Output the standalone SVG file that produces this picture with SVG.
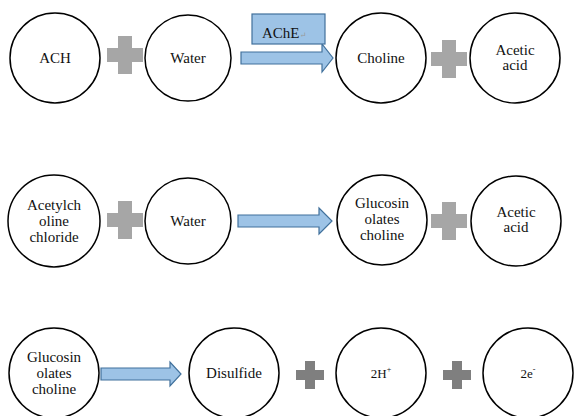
<svg xmlns="http://www.w3.org/2000/svg" width="574" height="416" viewBox="0 0 574 416" font-family="'Liberation Serif', 'DejaVu Serif', serif">
<style>
.node circle{fill:#fff;stroke:#000;stroke-width:1.5}
text{font-family:'Liberation Serif','DejaVu Serif',serif;font-size:15px;fill:#111;text-anchor:middle}
.small{font-size:13px}
.plus{fill:#a6a6a6}
.plusd{fill:#7f7f7f}
.arrow{fill:#9dc3e6;stroke:#41719c;stroke-width:1.2}
.sup{font-size:8px}
</style>
<defs>
<path id="plusL" d="M-7,-19H7V-7H18V7H7V19H-7V7H-18V-7H-7Z"/>
<path id="plusS" d="M-5,-14H5V-5H14V5H5V14H-5V5H-14V-5H-5Z"/>
</defs>
<rect width="574" height="416" fill="#fff"/>

<g id="connectors">
<path class="arrow" d="M241,52H322V44L333,58L322,72V64H241Z"/>
<path class="arrow" d="M238,215H319V208L332,221L319,234V227H238Z"/>
<path class="arrow" d="M101,368H170V362L181,374L170,386V380H101Z"/>
<use href="#plusL" class="plus" x="125" y="55"/>
<use href="#plusL" class="plus" x="449" y="59"/>
<use href="#plusL" class="plus" x="125" y="220"/>
<use href="#plusL" class="plus" x="449" y="221"/>
<use href="#plusS" class="plusd" x="310" y="375"/>
<use href="#plusS" class="plusd" x="457" y="375"/>
</g>

<g id="ache">
<rect x="252" y="14" width="73" height="30" fill="#9dc3e6" stroke="#41719c" stroke-width="1.2"/>
<text x="284" y="38">AChE<tspan font-size="8" fill="#999">↵</tspan></text>
</g>

<g id="n-ach" class="node"><circle cx="55" cy="58" r="45"/><text x="55" y="63">ACH</text></g>
<g id="n-water1" class="node"><circle cx="188" cy="58" r="43"/><text x="188" y="63">Water</text></g>
<g id="n-choline" class="node"><circle cx="381" cy="58" r="45"/><text x="381" y="63">Choline</text></g>
<g id="n-acetic1" class="node"><circle cx="515" cy="58" r="45"/><text x="515" y="55">Acetic</text><text x="515" y="70">acid</text></g>

<g id="n-acetylcholine" class="node"><circle cx="54" cy="221" r="46"/><text x="54" y="210">Acetylch</text><text x="54" y="226">oline</text><text x="54" y="242">chloride</text></g>
<g id="n-water2" class="node"><circle cx="188" cy="221" r="43"/><text x="188" y="226">Water</text></g>
<g id="n-gluc1" class="node"><circle cx="382" cy="220" r="45"/><text x="382" y="208">Glucosin</text><text x="382" y="224">olates</text><text x="382" y="240">choline</text></g>
<g id="n-acetic2" class="node"><circle cx="516" cy="221" r="45"/><text x="516" y="217">Acetic</text><text x="516" y="232">acid</text></g>

<g id="n-gluc2" class="node"><circle cx="54" cy="373" r="45"/><text x="54" y="362">Glucosin</text><text x="54" y="378">olates</text><text x="54" y="394">choline</text></g>
<g id="n-disulfide" class="node"><circle cx="234" cy="373" r="45"/><text x="234" y="378">Disulfide</text></g>
<g id="n-2h" class="node"><circle cx="381" cy="373" r="45"/><text class="small" x="381" y="378">2H<tspan class="sup" dy="-6">+</tspan></text></g>
<g id="n-2e" class="node"><circle cx="528" cy="373" r="45"/><text class="small" x="528" y="378">2e<tspan class="sup" dy="-6">-</tspan></text></g>
</svg>
